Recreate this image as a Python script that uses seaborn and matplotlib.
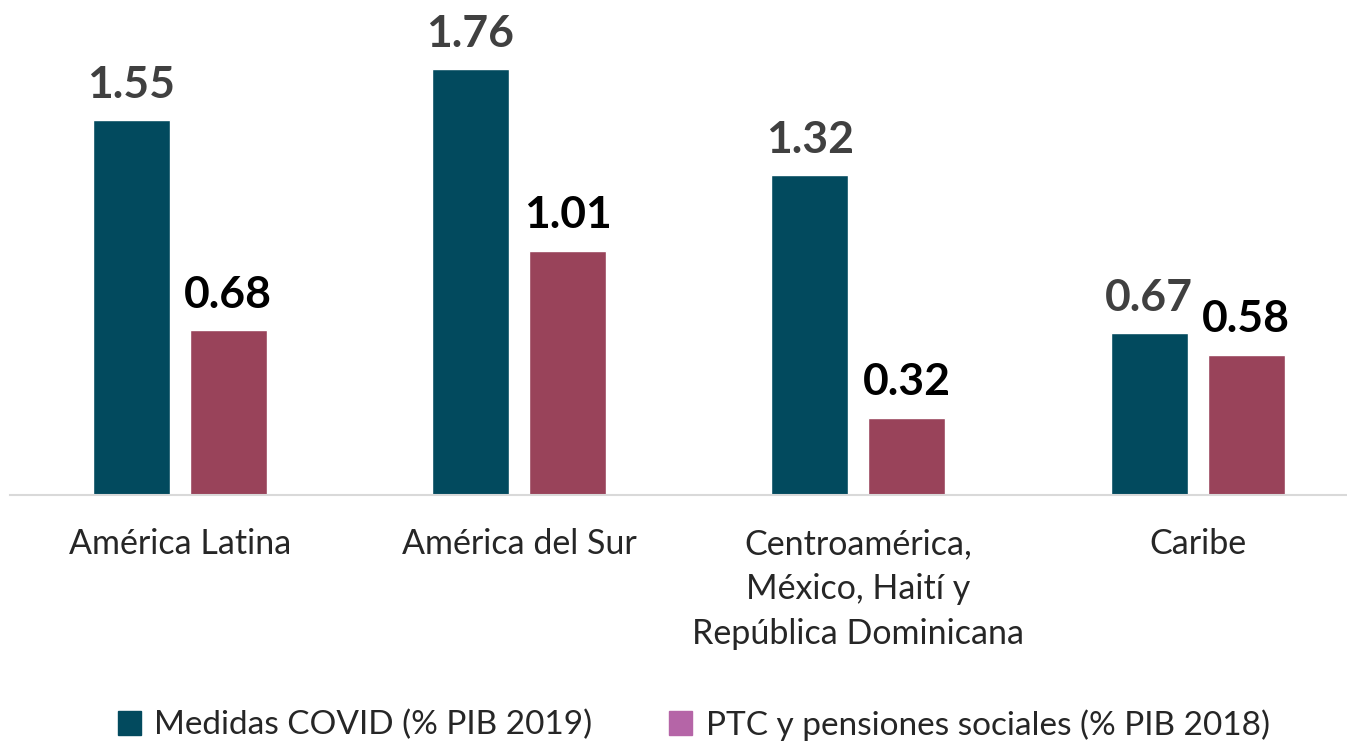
import pandas as pd
import matplotlib.pyplot as plt
import seaborn as sns
from matplotlib.patches import Patch

regions = ["América Latina", "América del Sur",
           "Centroamérica,\nMéxico, Haití y\nRepública Dominicana", "Caribe"]
covid = [1.55, 1.76, 1.32, 0.67]
ptc = [0.68, 1.01, 0.32, 0.58]
series = ["Medidas COVID (% PIB 2019)", "PTC y pensiones sociales (% PIB 2018)"]

df = pd.DataFrame({
    "region": regions * 2,
    "valor": covid + ptc,
    "serie": [series[0]] * 4 + [series[1]] * 4,
})

sns.set_style("white")
plt.rcParams['font.family'] = ['Lato', 'DejaVu Sans']

fig = plt.figure(figsize=(13.47, 7.46), dpi=100)
ax = fig.add_axes([10 / 1347, 251 / 746, 1 - 10 / 1347, 495 / 746])

bar_colors = ["#024A5E", "#99435A"]
sns.barplot(data=df, x="region", y="valor", hue="serie", palette=bar_colors,
            width=0.572, gap=0.206, ax=ax, legend=False, saturation=1)

# value labels: grey over the COVID bars, black over the PTC bars
label_colors = ["#404040", "#000000"]
for cont, col in zip(ax.containers, label_colors):
    ax.bar_label(cont, fmt="%.2f", padding=11, fontsize=32, fontweight="bold", color=col)

ax.set_xlim(-0.5, 3.44)
ax.set_ylim(0, 2.045)
ax.set_xlabel("")
ax.set_ylabel("")
ax.set_yticks([])
for s in ["top", "right", "left"]:
    ax.spines[s].set_visible(False)
ax.spines["bottom"].set_color("#D9D9D9")
ax.spines["bottom"].set_linewidth(1.5)
ax.tick_params(axis="x", length=0, pad=24, labelsize=24.5)
for t in ax.get_xticklabels():
    t.set_linespacing(1.5)

handles = [Patch(color="#024A5E"), Patch(color="#B565A7")]
fig.legend(handles, series, loc="lower center", ncol=2, frameon=False,
           fontsize=24, bbox_to_anchor=(0.515, -0.033), handlelength=0.7,
           handleheight=0.7, handletextpad=0.4, columnspacing=2.3)

fig.savefig("out.png", dpi=100)
